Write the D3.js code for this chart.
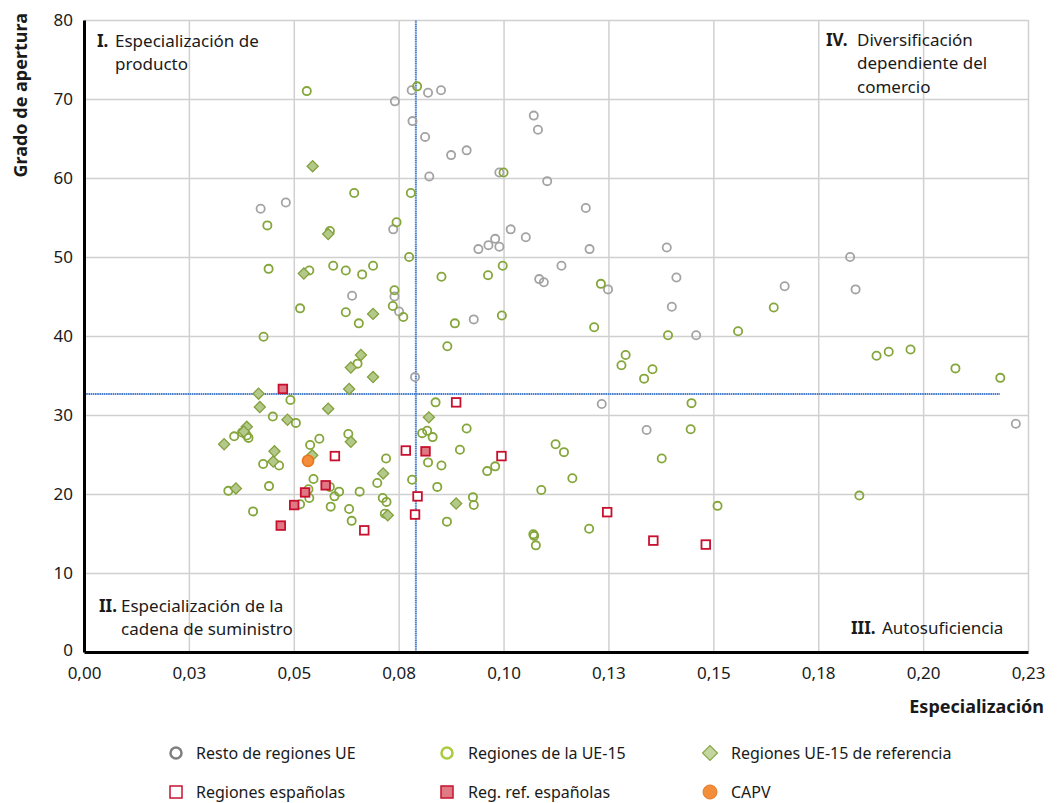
<!DOCTYPE html>
<html>
<head>
<meta charset="utf-8">
<script src="https://cdn.jsdelivr.net/npm/d3@7"></script>
<style>
  body { margin: 0; background: #fff; }
  text { font-family: "Noto Sans", sans-serif; fill: #1a1a1a; }
</style>
</head>
<body>
<svg id="chart" width="1058" height="803"></svg>
<script>
// axis ticks
const xTicks = [0, 0.025, 0.05, 0.075, 0.1, 0.125, 0.15, 0.175, 0.2, 0.225];
const xTickLabels = ["0,00", "0,03", "0,05", "0,08", "0,10", "0,13", "0,15", "0,18", "0,20", "0,23"];
const yTicks = [0, 10, 20, 30, 40, 50, 60, 70, 80];

// reference lines (averages)
const meanX = 0.0791;
const meanY = 32.66;
const meanYLineEnd = 0.2183;

// series: [especialización, grado de apertura]
const restoUE = [
  [0.0421,56.1],[0.0481,56.9],[0.0741,69.7],[0.0781,71.1],[0.0820,70.8],[0.0851,71.1],[0.0783,67.2],
  [0.0813,65.2],[0.0875,62.9],[0.0912,63.5],[0.0823,60.2],[0.1072,67.9],[0.1082,66.1],[0.0990,60.7],
  [0.1104,59.6],[0.1196,56.2],[0.0737,53.5],[0.1017,53.5],[0.1053,52.5],[0.0980,52.3],[0.0964,51.5],
  [0.0990,51.3],[0.0940,51.0],[0.1205,51.0],[0.1389,51.2],[0.1826,50.0],[0.1670,46.3],[0.1839,45.9],
  [0.1459,40.1],[0.2221,28.9],[0.0639,45.1],[0.0740,45.0],[0.0751,43.1],[0.0929,42.1],[0.1138,48.9],
  [0.1085,47.2],[0.1096,46.8],[0.1249,45.9],[0.1412,47.4],[0.1401,43.7],[0.0789,34.8],[0.1234,31.4],
  [0.1341,28.1]
];

const ue15 = [
  [0.0531,71.0],[0.0644,58.1],[0.0437,54.0],[0.0586,53.3],[0.0794,71.6],[0.0779,58.1],[0.1000,60.7],
  [0.0745,54.4],[0.0775,50.0],[0.0440,48.5],[0.0537,48.3],[0.0594,48.9],[0.0624,48.3],[0.0663,47.8],
  [0.0689,48.9],[0.0515,43.5],[0.0624,43.0],[0.0655,41.6],[0.0428,39.9],[0.0740,45.8],[0.0736,43.8],
  [0.0761,42.4],[0.0852,47.5],[0.0963,47.7],[0.0998,48.9],[0.0996,42.6],[0.0884,41.6],[0.0866,38.7],
  [0.1232,46.6],[0.1216,41.1],[0.1392,40.1],[0.1291,37.6],[0.1281,36.3],[0.1355,35.8],[0.1335,34.6],
  [0.1559,40.6],[0.1644,43.6],[0.1889,37.5],[0.1918,38.0],[0.1970,38.3],[0.2077,35.9],[0.2184,34.7],
  [0.1448,31.5],[0.1446,28.2],[0.1377,24.5],[0.1124,26.3],[0.1144,25.3],[0.1164,22.0],[0.1090,20.5],
  [0.1510,18.5],[0.1848,19.8],[0.1204,15.6],[0.1071,14.9],[0.1073,14.7],[0.1077,13.5],[0.0838,31.6],
  [0.0912,28.3],[0.0806,27.7],[0.0818,28.0],[0.0831,27.2],[0.0896,25.6],[0.0820,24.0],[0.0852,23.6],
  [0.0720,24.5],[0.0699,21.4],[0.0782,21.8],[0.0842,20.9],[0.0961,22.9],[0.0980,23.5],[0.0712,19.5],
  [0.0721,19.0],[0.0717,17.5],[0.0927,19.6],[0.0929,18.6],[0.0865,16.5],[0.0492,31.9],[0.0450,29.8],
  [0.0505,29.0],[0.0358,27.3],[0.0377,27.8],[0.0388,27.4],[0.0392,27.1],[0.0561,27.0],[0.0539,26.2],
  [0.0630,27.6],[0.0427,23.8],[0.0465,23.6],[0.0441,21.0],[0.0344,20.4],[0.0403,17.8],[0.0547,21.9],
  [0.0535,20.6],[0.0537,19.5],[0.0515,18.7],[0.0586,20.9],[0.0608,20.3],[0.0597,19.7],[0.0588,18.4],
  [0.0632,18.1],[0.0638,16.6],[0.0657,20.3],[0.0652,36.5]
];

const ue15Ref = [
  [0.0545,61.5],[0.0582,52.9],[0.0524,47.9],[0.0689,42.8],[0.0660,37.6],[0.0636,36.0],[0.0689,34.8],
  [0.0632,33.3],[0.0416,32.7],[0.0419,31.0],[0.0582,30.8],[0.0485,29.4],[0.0388,28.5],[0.0381,27.9],
  [0.0334,26.3],[0.0636,26.6],[0.0454,25.4],[0.0451,24.1],[0.0362,20.7],[0.0544,24.9],[0.0822,29.7],
  [0.0713,22.6],[0.0887,18.8],[0.0724,17.3]
];

const espanolas = [
  [0.0887,31.6],[0.0767,25.5],[0.0995,24.8],[0.0795,19.7],[0.0789,17.4],[0.0598,24.8],[0.0668,15.4],
  [0.1247,17.7],[0.1357,14.1],[0.1482,13.6]
];

const espRef = [
  [0.0474,33.3],[0.0814,25.4],[0.0576,21.1],[0.0527,20.2],[0.0501,18.6],[0.0469,16.0]
];

const capv = [[0.0534,24.2]];

const legendLabels = [
  "Resto de regiones UE", "Regiones de la UE-15", "Regiones UE-15 de referencia",
  "Regiones españolas", "Reg. ref. españolas", "CAPV"
];

const svg = d3.select('#chart');

const x = d3.scaleLinear().domain([0, 0.225]).range([84, 1028]);
const y = d3.scaleLinear().domain([0, 80]).range([652, 20]);

// grid
svg.append('g')
    .attr('transform', `translate(0,${y(0)})`)
    .call(d3.axisBottom(x).tickValues(xTicks.slice(1)).tickSize(-(y(0) - y(80))).tickFormat(''))
    .call(g => g.select('.domain').remove())
    .call(g => g.selectAll('line').attr('stroke', '#d0d0d0').attr('stroke-width', 1.5));

svg.append('g')
    .attr('transform', `translate(${x(0)},0)`)
    .call(d3.axisLeft(y).tickValues(yTicks.slice(1)).tickSize(-(x(0.225) - x(0))).tickFormat(''))
    .call(g => g.select('.domain').remove())
    .call(g => g.selectAll('line').attr('stroke', '#d0d0d0').attr('stroke-width', 1.5));

// average lines
svg.append('line')
    .attr('x1', x(meanX)).attr('x2', x(meanX))
    .attr('y1', y(0)).attr('y2', y(80))
    .attr('stroke', '#4a7fcf').attr('stroke-width', 2).attr('stroke-dasharray', '1.6,0.6');
svg.append('line')
    .attr('x1', x(0)).attr('x2', x(meanYLineEnd))
    .attr('y1', y(meanY)).attr('y2', y(meanY))
    .attr('stroke', '#4a7fcf').attr('stroke-width', 2).attr('stroke-dasharray', '1.6,0.6');

// axes with labels
const xAxis = svg.append('g')
    .attr('transform', `translate(0,${y(0)})`)
    .call(d3.axisBottom(x).tickValues(xTicks).tickFormat((d, i) => xTickLabels[i]).tickSize(0).tickPadding(15));
xAxis.select('.domain').attr('stroke', '#000').attr('stroke-width', 3);
xAxis.selectAll('text').attr('font-size', 17).attr('fill', '#1a1a1a').style('font-family', '"Noto Sans", sans-serif');

const yAxis = svg.append('g')
    .attr('transform', `translate(${x(0)},0)`)
    .call(d3.axisLeft(y).tickValues(yTicks).tickSize(0).tickPadding(11));
yAxis.select('.domain').attr('stroke', '#000').attr('stroke-width', 3);
yAxis.selectAll('text').attr('font-size', 17).attr('fill', '#1a1a1a').style('font-family', '"Noto Sans", sans-serif');
yAxis.selectAll('.tick').filter(d => d === 0).select('text').attr('dy', '0.2em');

// axis titles
svg.append('text')
    .attr('transform', 'translate(27,13) rotate(-90)')
    .attr('text-anchor', 'end')
    .attr('font-size', 18).attr('font-weight', 'bold')
    .text('Grado de apertura');
svg.append('text')
    .attr('x', 1044).attr('y', 713)
    .attr('text-anchor', 'end')
    .attr('font-size', 18).attr('font-weight', 'bold')
    .text('Especialización');

// quadrant labels, one text per line
function quadLabel(xb, xt, yb, num, lines) {
  svg.append('text').attr('x', xb).attr('y', yb)
      .attr('font-size', 17).attr('font-weight', 'bold').text(num);
  lines.forEach((l, i) => {
    svg.append('text').attr('x', xt).attr('y', yb + i * 23.4)
        .attr('font-size', 17).text(l);
  });
}
quadLabel(97, 115, 47, 'I.', ['Especialización de', 'producto']);
quadLabel(826, 857, 46, 'IV.', ['Diversificación', 'dependiente del', 'comercio']);
quadLabel(99, 121, 612, 'II.', ['Especialización de la', 'cadena de suministro']);
quadLabel(851, 882, 634, 'III.', ['Autosuficiencia']);

// markers
svg.append('g').selectAll('circle').data(restoUE).enter().append('circle')
    .attr('cx', d => x(d[0])).attr('cy', d => y(d[1])).attr('r', 4.1)
    .attr('fill', 'none').attr('stroke', '#a3a3a3').attr('stroke-width', 1.8);

svg.append('g').selectAll('circle').data(ue15).enter().append('circle')
    .attr('cx', d => x(d[0])).attr('cy', d => y(d[1])).attr('r', 4.1)
    .attr('fill', 'none').attr('stroke', '#84a63a').attr('stroke-width', 1.8);

svg.append('g').selectAll('path').data(ue15Ref).enter().append('path')
    .attr('transform', d => `translate(${x(d[0])},${y(d[1])}) rotate(45)`)
    .attr('d', d3.symbol().type(d3.symbolSquare).size(62))
    .attr('fill', '#b3c98a').attr('stroke', '#84a03c').attr('stroke-width', 1.3);

svg.append('g').selectAll('rect').data(espanolas).enter().append('rect')
    .attr('x', d => x(d[0]) - 4.3).attr('y', d => y(d[1]) - 4.3)
    .attr('width', 8.6).attr('height', 8.6)
    .attr('fill', '#fff').attr('stroke', '#c8102e').attr('stroke-width', 1.8);

svg.append('g').selectAll('rect').data(espRef).enter().append('rect')
    .attr('x', d => x(d[0]) - 4.3).attr('y', d => y(d[1]) - 4.3)
    .attr('width', 8.6).attr('height', 8.6)
    .attr('fill', '#de7884').attr('stroke', '#c8102e').attr('stroke-width', 1.8);

svg.append('g').selectAll('circle').data(capv).enter().append('circle')
    .attr('cx', d => x(d[0])).attr('cy', d => y(d[1])).attr('r', 5.6)
    .attr('fill', '#f28e3b').attr('stroke', '#e8761f').attr('stroke-width', 1.6);

// legend
const legendX = [176, 447, 710];
const legendY = [753, 792];
const legend = svg.append('g');
legendLabels.forEach((label, i) => {
  const cx = legendX[i % 3], cy = legendY[Math.floor(i / 3)];
  const g = legend.append('g').attr('transform', `translate(${cx},${cy})`);
  if (i === 0) g.append('circle').attr('r', 5.5).attr('fill', 'none').attr('stroke', '#7f7f7f').attr('stroke-width', 2.5);
  if (i === 1) g.append('circle').attr('r', 5.5).attr('fill', 'none').attr('stroke', '#a9cc3f').attr('stroke-width', 2.5);
  if (i === 2) g.append('path').attr('d', d3.symbol().type(d3.symbolSquare).size(110)).attr('transform', 'rotate(45)')
      .attr('fill', '#c3d6a0').attr('stroke', '#8aab4a').attr('stroke-width', 1.3);
  if (i === 3) g.append('rect').attr('x', -6).attr('y', -6).attr('width', 12).attr('height', 12)
      .attr('fill', '#fff').attr('stroke', '#c8102e').attr('stroke-width', 1.5);
  if (i === 4) g.append('rect').attr('x', -6).attr('y', -6).attr('width', 12).attr('height', 12)
      .attr('fill', '#e07b86').attr('stroke', '#c8102e').attr('stroke-width', 1.5);
  if (i === 5) g.append('circle').attr('r', 7).attr('fill', '#f28e3b').attr('stroke', '#e8761f').attr('stroke-width', 1);
  g.append('text').attr('x', i % 3 === 0 ? 20 : 21).attr('y', 6)
      .attr('font-size', 16).text(label);
});
</script>
</body>
</html>
